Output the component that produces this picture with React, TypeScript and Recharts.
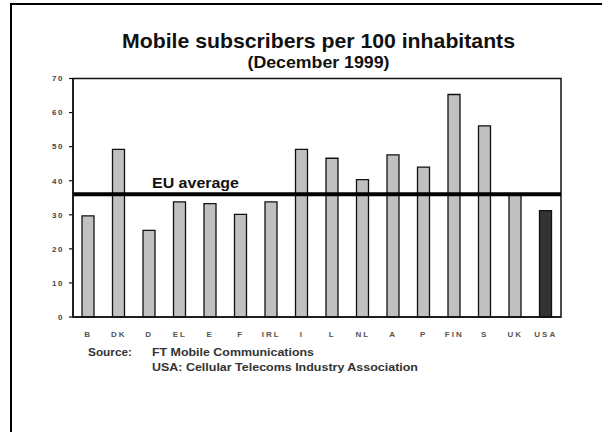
import React from "react";
import {
  BarChart,
  Bar,
  Cell,
  XAxis,
  YAxis,
  ReferenceLine,
  ReferenceArea,
} from "recharts";

// data
const countries = ["B", "DK", "D", "EL", "E", "F", "IRL", "I", "L", "NL", "A", "P", "FIN", "S", "UK", "USA"];
const subscribers = [29.7, 49.2, 25.4, 33.8, 33.3, 30.1, 33.8, 49.2, 46.6, 40.3, 47.6, 44.0, 65.3, 56.1, 36.0, 31.2];
const yTicks = [0, 10, 20, 30, 40, 50, 60, 70];
const euAverage = 36;

const FONT = "'Liberation Sans', Arial, sans-serif";

const data = countries.map((name, i) => ({ name, value: subscribers[i] }));

function EuLabel(props: any) {
  const vb = props.viewBox || { x: 0, y: 0 };
  return (
    <text
      x={vb.x + 79}
      y={vb.y - 6}
      fontFamily={FONT}
      fontSize={14}
      fontWeight="bold"
      fill="#111"
      textLength={87}
      lengthAdjust="spacingAndGlyphs"
    >
      EU average
    </text>
  );
}

export default function App() {
  return (
    <div style={{ position: "absolute", left: 0, top: 0, width: 602, height: 432, background: "#fff", overflow: "hidden" }}>
      {/* outer frame: only left and top are visible */}
      <div
        style={{
          position: "absolute",
          left: 10,
          top: 3,
          width: 592,
          height: 429,
          boxSizing: "border-box",
          borderLeft: "2px solid #000",
          borderTop: "2px solid #000",
        }}
      />
      <BarChart
        width={602}
        height={432}
        data={data}
        margin={{ top: 78.5, right: 41, bottom: 85, left: 0 }}
        style={{ position: "absolute", left: 0, top: 0 }}
      >
        <ReferenceArea y1={0} y2={70} fill="none" stroke="#111" strokeWidth={1.5} ifOverflow="visible" />
        <XAxis
          dataKey="name"
          interval={0}
          height={30}
          tickLine={false}
          tickSize={0}
          tickMargin={14}
          axisLine={{ stroke: "#111", strokeWidth: 1.5 }}
          tick={{ fontSize: 8, fontWeight: "bold", fill: "#555", fontFamily: FONT, letterSpacing: 2 }}
        />
        <YAxis
          domain={[0, 70]}
          ticks={yTicks}
          width={73}
          tickSize={4}
          tickMargin={5}
          tickLine={{ stroke: "#111", strokeWidth: 1.2 }}
          axisLine={{ stroke: "#111", strokeWidth: 1.5 }}
          tick={{ fontSize: 8, fontWeight: "bold", fill: "#444", fontFamily: FONT, letterSpacing: 1.5 }}
        />
        <Bar dataKey="value" barSize={12} stroke="#111" strokeWidth={1.3} isAnimationActive={false}>
          {data.map((d, i) => (
            <Cell key={`c-${i}`} fill={d.name === "USA" ? "#333" : "#c0c0c0"} />
          ))}
        </Bar>
        <ReferenceLine y={euAverage} stroke="#000" strokeWidth={4} ifOverflow="visible" label={<EuLabel />} />
      </BarChart>
      <svg width={602} height={432} style={{ position: "absolute", left: 0, top: 0, pointerEvents: "none" }}>
        <text x={122} y={48} fontFamily={FONT} fontSize={21} fontWeight="bold" fill="#111" textLength={393} lengthAdjust="spacingAndGlyphs">
          Mobile subscribers per 100 inhabitants
        </text>
        <text x={247.5} y={68} fontFamily={FONT} fontSize={16} fontWeight="bold" fill="#111" textLength={142} lengthAdjust="spacingAndGlyphs">
          (December 1999)
        </text>
        <text x={88} y={356} fontFamily={FONT} fontSize={11.5} fontWeight="bold" fill="#333" textLength={44} lengthAdjust="spacingAndGlyphs">
          Source:
        </text>
        <text x={152} y={356} fontFamily={FONT} fontSize={11.5} fontWeight="bold" fill="#333" textLength={162} lengthAdjust="spacingAndGlyphs">
          FT Mobile Communications
        </text>
        <text x={152} y={370.5} fontFamily={FONT} fontSize={11.5} fontWeight="bold" fill="#333" textLength={266} lengthAdjust="spacingAndGlyphs">
          USA: Cellular Telecoms Industry Association
        </text>
      </svg>
    </div>
  );
}
